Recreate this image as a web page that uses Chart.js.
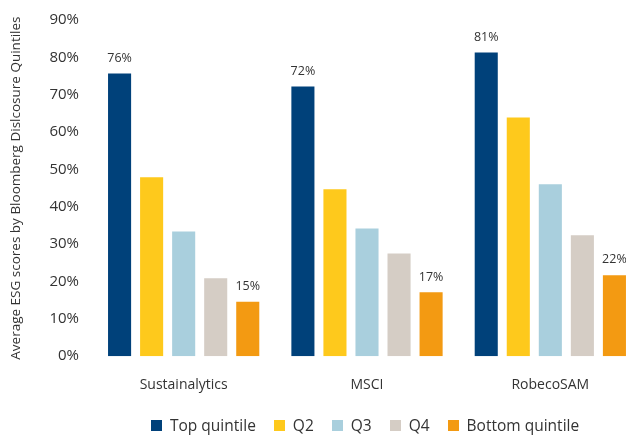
<!DOCTYPE html>
<html>
<head>
<meta charset="utf-8">
<script src="https://cdn.jsdelivr.net/npm/chart.js@4/dist/chart.umd.min.js"></script>
<style>
  html, body { margin: 0; padding: 0; background: #fff; overflow: hidden; }
  #wrap { position: relative; width: 642px; height: 438px; }
  #legend { position: absolute; top: 414px; left: 151px; font-family: "Open Sans", sans-serif; font-size: 15.5px; color: #333; white-space: nowrap; }
  #legend span.item { display: inline-block; margin-right: 18px; }
  #legend i { display: inline-block; width: 11px; height: 11px; margin-right: 8px; vertical-align: 0px; }
</style>
</head>
<body>
<div id="wrap">
  <canvas id="chart" width="642" height="438"></canvas>
  <div id="legend"></div>
</div>
<script>
const providers = ["Sustainalytics", "MSCI", "RobecoSAM"];
const quintiles = ["Top quintile", "Q2", "Q3", "Q4", "Bottom quintile"];
const colors = ["#00417a", "#fec91c", "#a9cfdd", "#d5cdc5", "#f39a12"];
const topQ = [75.7, 72.2, 81.3];
const q2 = [47.9, 44.7, 63.9];
const q3 = [33.4, 34.2, 46.0];
const q4 = [20.9, 27.5, 32.4];
const bottomQ = [14.6, 17.1, 21.7];
const yTicks = [0, 10, 20, 30, 40, 50, 60, 70, 80, 90];
const labelled = [0, 4]; // only top and bottom quintile get value labels

const series = [topQ, q2, q3, q4, bottomQ];

// draw % labels above top / bottom quintile bars
const valueLabels = {
  id: "valueLabels",
  afterDatasetsDraw(chart) {
    const ctx = chart.ctx;
    ctx.save();
    ctx.font = "12.5px 'Open Sans', sans-serif";
    ctx.fillStyle = "#333";
    ctx.textAlign = "center";
    ctx.textBaseline = "bottom";
    labelled.forEach(di => {
      chart.getDatasetMeta(di).data.forEach((bar, i) => {
        const v = chart.data.datasets[di].data[i];
        ctx.fillText(Math.round(v) + "%", bar.x, bar.y - 9);
      });
    });
    ctx.restore();
  }
};

new Chart(document.getElementById("chart"), {
  type: "bar",
  data: {
    labels: providers,
    datasets: series.map((d, i) => ({
      label: quintiles[i],
      data: d,
      backgroundColor: colors[i],
      categoryPercentage: 0.874,
      barPercentage: 0.72
    }))
  },
  options: {
    responsive: false,
    animation: false,
    layout: { padding: { top: 20, bottom: 33, left: 0, right: 0 } },
    plugins: {
      legend: { display: false },
      tooltip: { enabled: false }
    },
    scales: {
      x: {
        grid: { display: false },
        border: { display: false },
        ticks: { color: "#333", font: { family: "'Open Sans', sans-serif", size: 14 }, padding: 12 }
      },
      y: {
        min: 0,
        max: 90,
        afterFit: s => { s.width = 92; },
        afterBuildTicks: s => { s.ticks = yTicks.map(v => ({ value: v })); },
        grid: { display: false },
        border: { display: false },
        ticks: {
          color: "#333",
          font: { family: "'Open Sans', sans-serif", size: 15 },
          padding: 5,
          callback: v => v + "%"
        },
        title: {
          display: true,
          text: "Average ESG scores by Bloomberg Dislcosure Quintiles",
          color: "#333",
          font: { family: "'Open Sans', sans-serif", size: 13.5 },
          padding: { top: 8, bottom: 0 }
        }
      }
    }
  },
  plugins: [valueLabels]
});

const legend = document.getElementById("legend");
quintiles.forEach((q, i) => {
  const s = document.createElement("span");
  s.className = "item";
  s.innerHTML = `<i style="background:${colors[i]}"></i>${q}`;
  legend.appendChild(s);
});
</script>
</body>
</html>
